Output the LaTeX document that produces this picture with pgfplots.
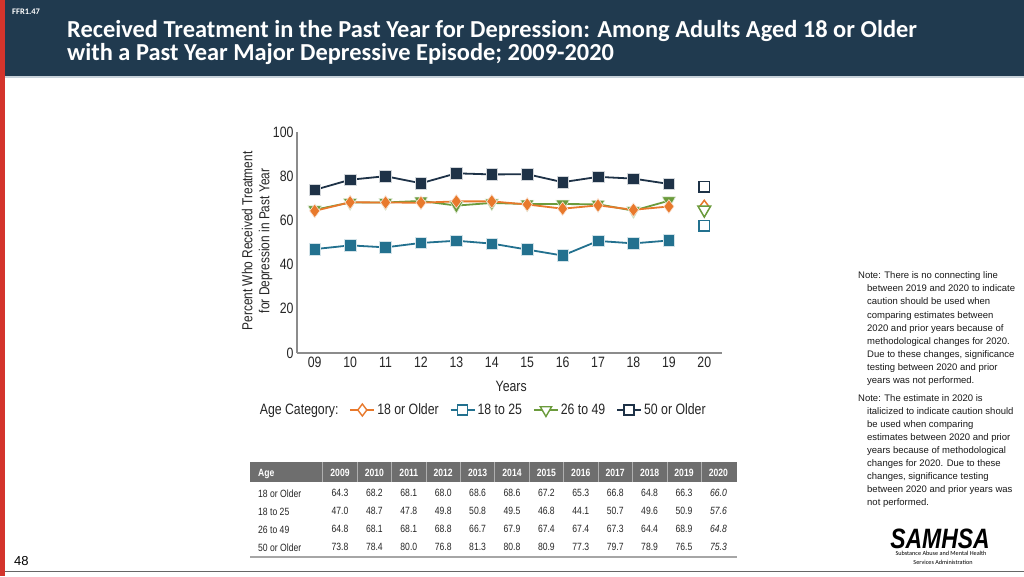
\documentclass[border=0pt]{standalone}
\usepackage{fontspec}
\usepackage{pgfplots}
\pgfplotsset{compat=1.18}
\setmainfont{Liberation Sans}
\newfontfamily\narrow[FakeStretch=0.82]{Liberation Sans}
\newfontfamily\calibri{Carlito}
\definecolor{hdr}{HTML}{203A4F}
\definecolor{redstrip}{HTML}{D4342C}
\definecolor{cA}{HTML}{E8792C}
\definecolor{cB}{HTML}{23718F}
\definecolor{cC}{HTML}{6B9B3C}
\definecolor{cD}{HTML}{1E3247}
\definecolor{axisgray}{HTML}{8C8C8C}
\definecolor{tblhdr}{HTML}{6E6E6E}
\begin{document}
\begin{tikzpicture}[x=1pt,y=1pt]
\path[use as bounding box] (0,0) rectangle (1024,576);
\fill[white] (0,0) rectangle (1024,576);
% header
\fill[hdr] (0,500) rectangle (1024,576);
\draw[line width=1.5pt, color={rgb,255:red,200;green,210;blue,218}] (0,499) -- (1024,499);
\fill[redstrip] (0,0) rectangle (5,576);
\draw[line width=1.3pt, color=black!60] (5,4.5) -- (1024,4.5);
\node[anchor=base west, text=white, font=\calibri\bfseries\fontsize{8.5}{9}\selectfont, inner sep=0] at (12,561) {FFR1.47};
\node[anchor=base west, text=white, font=\calibri\bfseries\fontsize{24.4}{26}\selectfont, inner sep=0] at (67,538) {Received Treatment in the Past Year for Depression: Among Adults Aged 18 or Older};
\node[anchor=base west, text=white, font=\calibri\bfseries\fontsize{24.4}{26}\selectfont, inner sep=0] at (67,515.5) {with a Past Year Major Depressive Episode; 2009-2020};
% page number
\node[anchor=base west, font=\fontsize{13}{13}\selectfont, inner sep=0] at (14,11) {48};

\begin{axis}[
  at={(297pt,223pt)}, anchor=south west,
  width=425pt, height=221pt, scale only axis,
  xmin=-0.5, xmax=11.5, ymin=0, ymax=100,
  axis lines*=left,
  axis line style={draw=axisgray, line width=1.2pt},
  xtick={0,...,11},
  xticklabels={09,10,11,12,13,14,15,16,17,18,19,20},
  ytick={0,20,...,100},
  major tick length=0pt,
  tick label style={font=\narrow\fontsize{15}{15}\selectfont, text=black!85},
  xticklabel style={text height=11pt, text depth=0pt},
  /pgf/number format/assume math mode=true,
  clip=false,
  xlabel={Years},
  xlabel style={font=\narrow\fontsize{15}{15}\selectfont, text=black!85, at={(axis description cs:0.504,-0.149)}, anchor=center},
  ylabel={Percent Who Received Treatment\\for Depression in Past Year},
  ylabel style={font=\narrow\fontsize{14.5}{17}\selectfont, text=black!85, align=center, at={(axis description cs:-0.094,0.507)}, anchor=center},
  legend style={draw=none, fill=none, legend columns=5,
    font=\narrow\fontsize{15}{15}\selectfont, text=black!85,
    at={(axis description cs:0.437,-0.258)}, anchor=center,
    /tikz/every even column/.append style={column sep=9pt}},
  legend image code/.code={\draw[mark repeat=2, mark phase=2] plot coordinates {(0pt,0pt) (12pt,0pt) (24pt,0pt)};},
]
% 18 to 25
\addplot[forget plot, color=cB, line width=1.8pt, mark=square*, mark size=5.8pt, mark options={fill=cB, draw=white!80!cB, line width=0.6pt}]
  coordinates {(0,47.0) (1,48.7) (2,47.8) (3,49.8) (4,50.8) (5,49.5) (6,46.8) (7,44.1) (8,50.7) (9,49.6) (10,50.9)};
% 50 or older
\addplot[forget plot, color=cD, line width=1.8pt, mark=square*, mark size=5.8pt, mark options={fill=cD, draw=white!80!cD, line width=0.6pt}]
  coordinates {(0,73.8) (1,78.4) (2,80.0) (3,76.8) (4,81.3) (5,80.8) (6,80.9) (7,77.3) (8,79.7) (9,78.9) (10,76.5)};
% 26 to 49
\addplot[forget plot, color=cC, line width=1.8pt, mark=triangle*, mark size=7.8pt, mark options={rotate=180, fill=cC, draw=white!80!cC, line width=0.6pt}]
  coordinates {(0,64.8) (1,68.1) (2,68.1) (3,68.8) (4,66.7) (5,67.9) (6,67.4) (7,67.4) (8,67.3) (9,64.4) (10,68.9)};
% 18 or older
\addplot[forget plot, color=cA, line width=1.8pt, mark=diamond*, mark size=6.8pt, mark options={fill=cA, draw=white!80!cA, line width=0.6pt}]
  coordinates {(0,64.3) (1,68.2) (2,68.1) (3,68.0) (4,68.6) (5,68.6) (6,67.2) (7,65.3) (8,66.8) (9,64.8) (10,66.3)};
% 2020 open marks
\addplot[forget plot, only marks, mark=square*, mark size=5.2pt, mark options={fill=white, draw=cB, line width=1.5pt}] coordinates {(11,57.6)};
\addplot[forget plot, only marks, mark=square*, mark size=5.2pt, mark options={fill=white, draw=cD, line width=1.5pt}] coordinates {(11,75.3)};
\addplot[forget plot, only marks, mark=diamond*, mark size=6.8pt, mark options={fill=white, draw=cA, line width=1.5pt}] coordinates {(11,66.0)};
\addplot[forget plot, only marks, mark=triangle*, mark size=7.3pt, mark options={rotate=180, fill=white, draw=cC, line width=1.5pt}] coordinates {(11,64.8)};
% legend
\addlegendimage{empty legend}
\addlegendentry{Age Category:}
\addlegendimage{color=cA, line width=1.8pt, mark=diamond*, mark size=6pt, mark options={fill=white, line width=1.4pt}}
\addlegendentry{18 or Older}
\addlegendimage{color=cB, line width=1.8pt, mark=square*, mark size=5pt, mark options={fill=white, line width=1.4pt}}
\addlegendentry{18 to 25}
\addlegendimage{color=cC, line width=1.8pt, mark=triangle*, mark size=6.5pt, mark options={rotate=180, fill=white, line width=1.4pt}}
\addlegendentry{26 to 49}
\addlegendimage{color=cD, line width=1.8pt, mark=square*, mark size=5pt, mark options={fill=white, line width=1.4pt}}
\addlegendentry{50 or Older}
\end{axis}

% table
\fill[tblhdr] (250,94) rectangle (737,114);
\foreach \x in {322,357,391,426,460,494,529,563,598,632,667,701} {
  \draw[white!45!tblhdr, line width=0.8pt] (\x,94) -- (\x,114);
}
\node[anchor=base west, text=white, font=\narrow\bfseries\fontsize{10.5}{11}\selectfont, inner sep=0] at (258,100) {Age};
\foreach \v [count=\i] in {2009,2010,2011,2012,2013,2014,2015,2016,2017,2018,2019,2020} {
  \node[anchor=base, text=white, font=\narrow\bfseries\fontsize{10.5}{11}\selectfont, inner sep=0] at ({340+34.4*(\i-1)},100) {\v};
}
\foreach \lab/\yy in {18 or Older/79, 18 to 25/61, 26 to 49/43, 50 or Older/25} {
  \node[anchor=base west, text=black!85, font=\narrow\fontsize{10.5}{11}\selectfont, inner sep=0] at (258,\yy) {\lab};
}
\foreach \row/\yy in {{64.3,68.2,68.1,68.0,68.6,68.6,67.2,65.3,66.8,64.8,66.3,66.0}/80,
                      {47.0,48.7,47.8,49.8,50.8,49.5,46.8,44.1,50.7,49.6,50.9,57.6}/62,
                      {64.8,68.1,68.1,68.8,66.7,67.9,67.4,67.4,67.3,64.4,68.9,64.8}/44,
                      {73.8,78.4,80.0,76.8,81.3,80.8,80.9,77.3,79.7,78.9,76.5,75.3}/26} {
  \foreach \v [count=\i] in \row {
    \node[anchor=base, text=black!85, font=\narrow\fontsize{10.5}{11}\selectfont, inner sep=0] at ({340+34.4*(\i-1)},\yy) {\ifnum\i=12 \itshape\fi\v};
  }
}
\draw[line width=1.5pt, color=black!35] (250,19) -- (737,19);

% notes
\foreach \t [count=\k] in {Note: There is no connecting line,
  \hspace*{9pt}between 2019 and 2020 to indicate,
  \hspace*{9pt}caution should be used when,
  \hspace*{9pt}comparing estimates between,
  \hspace*{9pt}2020 and prior years because of,
  \hspace*{9pt}methodological changes for 2020.,
  {\hspace*{9pt}Due to these changes, significance},
  \hspace*{9pt}testing between 2020 and prior,
  \hspace*{9pt}years was not performed.} {
  \node[anchor=base west, font=\fontsize{9.5}{11}\selectfont, text=black!90, inner sep=0] at (858,{576-279-13*(\k-1)}) {\t};
}
\foreach \t [count=\k] in {Note: The estimate in 2020 is,
  \hspace*{9pt}italicized to indicate caution should,
  \hspace*{9pt}be used when comparing,
  \hspace*{9pt}estimates between 2020 and prior,
  \hspace*{9pt}years because of methodological,
  \hspace*{9pt}changes for 2020. Due to these,
  {\hspace*{9pt}changes, significance testing},
  \hspace*{9pt}between 2020 and prior years was,
  \hspace*{9pt}not performed.} {
  \node[anchor=base west, font=\fontsize{9.5}{11}\selectfont, text=black!90, inner sep=0] at (858,{576-401-13*(\k-1)}) {\t};
}

% logo
\node[anchor=base, font=\narrow\bfseries\itshape\fontsize{28}{28}\selectfont, inner sep=0] at (940,28) {SAMHSA};
\node[anchor=base, font=\calibri\fontsize{6.2}{7}\selectfont, inner sep=0] at (941,20.5) {Substance Abuse and Mental Health};
\node[anchor=base, font=\calibri\fontsize{6.2}{7}\selectfont, inner sep=0] at (943,12) {Services Administration};
\end{tikzpicture}
\end{document}
